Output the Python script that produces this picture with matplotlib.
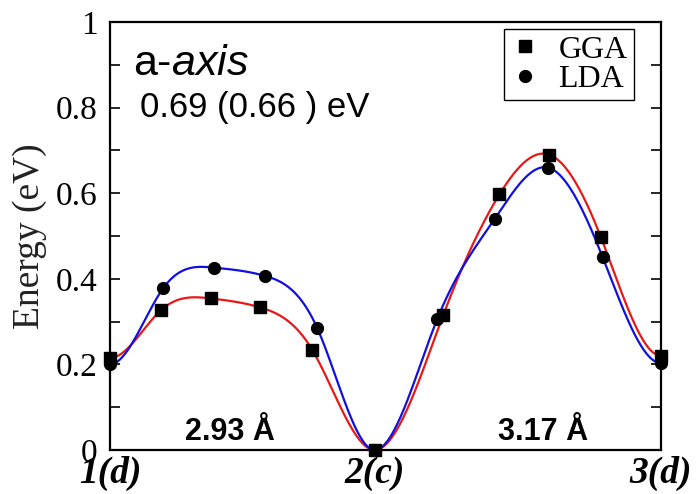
import numpy as np
import matplotlib
matplotlib.use("Agg")
import matplotlib.pyplot as plt
from matplotlib.ticker import MultipleLocator

plt.rcParams["mathtext.fontset"] = "custom"
plt.rcParams["mathtext.rm"] = "Liberation Sans"
plt.rcParams["mathtext.it"] = "Liberation Sans:italic"

# path positions (A) and energies (eV)
site_pos = [0.0, 2.93, 6.10]
site_labels = ["1(d)", "2(c)", "3(d)"]

energy_ticks = [0.0, 0.2, 0.4, 0.6, 0.8, 1.0]
energy_labels = ["0", "0.2", "0.4", "0.6", "0.8", "1"]

gga_x = [0.0, 0.566, 1.121, 1.665, 2.239, 2.93, 3.689, 4.311, 4.864, 5.435, 6.10]
gga_e = [0.215, 0.327, 0.354, 0.333, 0.234, 0.0, 0.315, 0.597, 0.69, 0.497, 0.220]

lda_x = [0.0, 0.592, 1.154, 1.713, 2.294, 2.93, 3.623, 4.259, 4.845, 5.453, 6.10]
lda_e = [0.200, 0.379, 0.426, 0.407, 0.285, 0.0, 0.306, 0.540, 0.66, 0.451, 0.203]

hop_labels = ["2.93 Å", "3.17 Å"]


def clamped_spline(x, y, xs):
    # cubic spline with zero slope at both ends
    x = np.asarray(x, float)
    y = np.asarray(y, float)
    n = len(x)
    h = np.diff(x)
    A = np.zeros((n, n))
    b = np.zeros(n)
    A[0, 0], A[0, 1] = 2 * h[0], h[0]
    b[0] = 6 * ((y[1] - y[0]) / h[0])
    A[-1, -2], A[-1, -1] = h[-1], 2 * h[-1]
    b[-1] = 6 * (0 - (y[-1] - y[-2]) / h[-1])
    for i in range(1, n - 1):
        A[i, i - 1] = h[i - 1]
        A[i, i] = 2 * (h[i - 1] + h[i])
        A[i, i + 1] = h[i]
        b[i] = 6 * ((y[i + 1] - y[i]) / h[i] - (y[i] - y[i - 1]) / h[i - 1])
    M = np.linalg.solve(A, b)
    k = np.clip(np.searchsorted(x, xs) - 1, 0, n - 2)
    hk = h[k]
    a = x[k + 1] - xs
    c = xs - x[k]
    return (M[k] * a**3 / (6 * hk) + M[k + 1] * c**3 / (6 * hk)
            + (y[k] / hk - M[k] * hk / 6) * a + (y[k + 1] / hk - M[k + 1] * hk / 6) * c)


def smooth(x, y):
    # fit each hop separately so the curve is flat at every site
    x = np.asarray(x)
    y = np.asarray(y)
    xs_all, ys_all = [], []
    for lo, hi in zip(site_pos[:-1], site_pos[1:]):
        m = (x >= lo - 1e-9) & (x <= hi + 1e-9)
        xs = np.linspace(lo, hi, 300)
        xs_all.append(xs)
        ys_all.append(clamped_spline(x[m], y[m], xs))
    return np.concatenate(xs_all), np.concatenate(ys_all)


fig = plt.figure(figsize=(6.98, 4.94), dpi=100)
ax = fig.add_axes([110 / 698, 1 - 450 / 494, 551 / 698, 428 / 494])

sx, sy = smooth(gga_x, gga_e)
ax.plot(sx, sy, color="#e81818", lw=1.6, zorder=2)
sx, sy = smooth(lda_x, lda_e)
ax.plot(sx, sy, color="#1010e0", lw=1.6, zorder=2)

ax.plot(gga_x, gga_e, "s", color="black", ms=8.5, ls="none", clip_on=False,
        zorder=3, label="GGA")
ax.plot(lda_x, lda_e, "o", color="black", ms=8.5, ls="none", clip_on=False,
        zorder=3, label="LDA")

ax.set_xlim(site_pos[0], site_pos[-1])
ax.set_ylim(0, 1)

ax.set_xticks(site_pos)
ax.set_xticklabels(site_labels, family="Liberation Serif", weight="bold",
                   style="italic", fontsize=27)
ax.tick_params(axis="x", length=0, pad=4)

ax.set_yticks(energy_ticks, labels=energy_labels)
ax.yaxis.set_minor_locator(MultipleLocator(0.1))
ax.tick_params(axis="y", which="both", direction="in", left=True, right=True,
               length=7, width=1.2, labelsize=24, pad=9,
               labelfontfamily="Liberation Serif")

for s in ax.spines.values():
    s.set_linewidth(1.6)

ax.set_ylabel("Energy (eV)", family="Liberation Serif", fontsize=27,
              color="#222222")
ax.yaxis.set_label_coords(-0.114, 0.5)

ax.text(0.25, 0.876, r"a-$\mathit{axis}$", family="Liberation Sans",
        fontsize=31, va="baseline")
ax.text(0.33, 0.778, "0.69 (0.66 ) eV", family="Liberation Sans",
        fontsize=25, va="baseline")

ax.text(1.33, 0.023, hop_labels[0], family="Liberation Sans", weight="bold",
        fontsize=22, ha="center", va="baseline")
ax.text(4.79, 0.023, hop_labels[1], family="Liberation Sans", weight="bold",
        fontsize=22, ha="center", va="baseline")

leg = ax.legend(loc="upper right", bbox_to_anchor=(0.951, 0.984),
                borderaxespad=0, fancybox=False, edgecolor="black",
                framealpha=1, handlelength=0.9, handletextpad=0.6,
                labelspacing=0.0, borderpad=0.2,
                prop={"family": "Liberation Serif", "size": 23})
leg.get_frame().set_linewidth(1.0)

fig.savefig("out.png", dpi=100)
